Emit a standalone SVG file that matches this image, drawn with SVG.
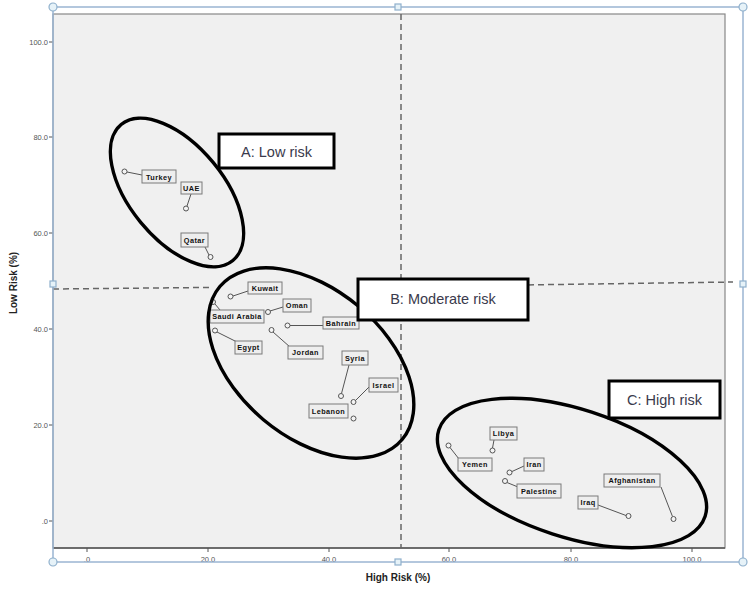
<svg xmlns="http://www.w3.org/2000/svg" width="754" height="605" viewBox="0 0 754 605">
<style>
.tick{font-family:"Liberation Sans",Arial,sans-serif;font-size:7.5px;fill:#555}
.ax{font-family:"Liberation Sans",Arial,sans-serif;font-size:10px;font-weight:bold;fill:#222}
.lb{fill:#eeeeee;stroke:#7a7a7a;stroke-width:1}
.lt{font-family:"Liberation Sans",Arial,sans-serif;font-size:7.3px;font-weight:bold;fill:#111;text-anchor:middle;letter-spacing:0.45px}
.pt{fill:#f4f4f4;stroke:#555;stroke-width:1}
.ld{stroke:#555;stroke-width:1;fill:none}
.dash{stroke:#666;stroke-width:1.5;stroke-dasharray:6,4;fill:none}
.ell{fill:none;stroke:#000;stroke-width:3.4}
.cb{fill:#fff;stroke:#000;stroke-width:3}
.ct{font-family:"Liberation Sans",Arial,sans-serif;font-size:14.5px;fill:#3a3a4c;text-anchor:middle}
.sel{stroke:#9bb5d2;stroke-width:1.5;fill:none}
.h{fill:#e6f2f8;stroke:#8fb0cc;stroke-width:1.2}
</style>
<rect width="754" height="605" fill="#fff"/>
<g id="plot">
<rect x="53" y="14" width="672" height="534" fill="#f0f0f0" stroke="#888" stroke-width="1.2"/>
<line x1="53" y1="548" x2="725" y2="548" stroke="#555" stroke-width="1.5"/>
<g stroke="#555" stroke-width="1">
<line x1="87" y1="548" x2="87" y2="552"/><line x1="208" y1="548" x2="208" y2="552"/>
<line x1="329" y1="548" x2="329" y2="552"/><line x1="449" y1="548" x2="449" y2="552"/>
<line x1="571" y1="548" x2="571" y2="552"/><line x1="692" y1="548" x2="692" y2="552"/>
<line x1="49" y1="42" x2="53" y2="42"/><line x1="49" y1="137" x2="53" y2="137"/>
<line x1="49" y1="233" x2="53" y2="233"/><line x1="49" y1="329" x2="53" y2="329"/>
<line x1="49" y1="425" x2="53" y2="425"/><line x1="49" y1="521" x2="53" y2="521"/>
</g>
<g class="tick" text-anchor="end">
<text x="48" y="45">100.0</text><text x="48" y="140">80.0</text><text x="48" y="236">60.0</text>
<text x="48" y="332">40.0</text><text x="48" y="428">20.0</text><text x="48" y="524">.0</text>
</g>
<g class="tick" text-anchor="middle">
<text x="87" y="562">.0</text><text x="208" y="562">20.0</text><text x="329" y="562">40.0</text>
<text x="449" y="562">60.0</text><text x="571" y="562">80.0</text><text x="692" y="562">100.0</text>
</g>
<text class="ax" x="398" y="581" text-anchor="middle">High Risk (%)</text>
<text class="ax" transform="translate(17,283) rotate(-90)" text-anchor="middle">Low Risk (%)</text>
</g>
<g id="connectors">
<line class="dash" x1="401" y1="14" x2="401" y2="548"/>
<line class="dash" x1="53" y1="289" x2="212" y2="287.4"/>
<line class="dash" x1="528" y1="284.9" x2="733" y2="282"/>
<line class="ld" x1="127" y1="172" x2="142" y2="175"/>
<line class="ld" x1="187" y1="206" x2="191" y2="194"/>
<line class="ld" x1="205" y1="247" x2="209" y2="255"/>
<line class="ld" x1="233" y1="296" x2="248" y2="291"/>
<line class="ld" x1="270" y1="311" x2="283" y2="307"/>
<line class="ld" x1="215" y1="304" x2="220" y2="310"/>
<line class="ld" x1="290" y1="325.5" x2="323" y2="325.5"/>
<line class="ld" x1="217" y1="332" x2="237" y2="342"/>
<line class="ld" x1="273" y1="332" x2="290" y2="347"/>
<line class="ld" x1="349" y1="365" x2="341.5" y2="393.5"/>
<line class="ld" x1="370" y1="386" x2="355.5" y2="400.5"/>
<line class="ld" x1="494" y1="440" x2="492.5" y2="448"/>
<line class="ld" x1="450" y1="447.5" x2="459" y2="459"/>
<line class="ld" x1="512" y1="471.5" x2="524" y2="466"/>
<line class="ld" x1="507" y1="482.5" x2="518" y2="487"/>
<line class="ld" x1="661" y1="487" x2="672.5" y2="516.5"/>
<line class="ld" x1="598" y1="505" x2="626" y2="515.5"/>
</g>
<g id="n-turkey"><rect class="lb" x="142" y="170" width="34" height="13"/><text class="lt" x="159" y="179.5">Turkey</text><circle class="pt" cx="124.5" cy="171.5" r="2.5"/></g>
<g id="n-uae"><rect class="lb" x="181" y="182" width="21" height="12"/><text class="lt" x="191.5" y="190.5">UAE</text><circle class="pt" cx="186" cy="208.5" r="2.5"/></g>
<g id="n-qatar"><rect class="lb" x="181" y="233" width="27" height="14"/><text class="lt" x="194.5" y="242.5">Qatar</text><circle class="pt" cx="210.5" cy="257" r="2.5"/></g>
<g id="n-kuwait"><rect class="lb" x="248" y="282" width="34" height="12"/><text class="lt" x="265" y="290.5">Kuwait</text><circle class="pt" cx="230.5" cy="296.5" r="2.5"/></g>
<g id="n-oman"><rect class="lb" x="283" y="299" width="28" height="13"/><text class="lt" x="297" y="308">Oman</text><circle class="pt" cx="268" cy="312" r="2.5"/></g>
<g id="n-saudi"><circle class="pt" cx="213" cy="302" r="2.5"/><rect class="lb" x="210" y="310" width="54" height="13"/><text class="lt" x="237" y="319">Saudi Arabia</text></g>
<g id="n-bahrain"><rect class="lb" x="323" y="317" width="36" height="12"/><text class="lt" x="341" y="325.5">Bahrain</text><circle class="pt" cx="287.5" cy="325.5" r="2.5"/></g>
<g id="n-egypt"><rect class="lb" x="235" y="341" width="27" height="13"/><text class="lt" x="248.5" y="350">Egypt</text><circle class="pt" cx="215" cy="330.5" r="2.5"/></g>
<g id="n-jordan"><rect class="lb" x="288" y="346" width="35" height="13"/><text class="lt" x="305.5" y="355">Jordan</text><circle class="pt" cx="271.5" cy="330" r="2.5"/></g>
<g id="n-syria"><rect class="lb" x="342" y="351" width="26" height="14"/><text class="lt" x="355" y="360.5">Syria</text><circle class="pt" cx="341" cy="396" r="2.5"/></g>
<g id="n-israel"><rect class="lb" x="369" y="378" width="29" height="14"/><text class="lt" x="383.5" y="387.5">Israel</text><circle class="pt" cx="353.5" cy="402" r="2.5"/></g>
<g id="n-lebanon"><rect class="lb" x="309" y="404" width="39" height="14"/><text class="lt" x="328.5" y="413.5">Lebanon</text><circle class="pt" cx="353.5" cy="418.5" r="2.5"/></g>
<g id="n-libya"><rect class="lb" x="490" y="427" width="27" height="13"/><text class="lt" x="503.5" y="436">Libya</text><circle class="pt" cx="492.5" cy="450.5" r="2.5"/></g>
<g id="n-yemen"><rect class="lb" x="458" y="458" width="34" height="13"/><text class="lt" x="475" y="467">Yemen</text><circle class="pt" cx="448.5" cy="445.5" r="2.5"/></g>
<g id="n-iran"><rect class="lb" x="524" y="458" width="20" height="13"/><text class="lt" x="534" y="467">Iran</text><circle class="pt" cx="509.5" cy="472.5" r="2.5"/></g>
<g id="n-palestine"><rect class="lb" x="517" y="484" width="44" height="14"/><text class="lt" x="539" y="493.5">Palestine</text><circle class="pt" cx="505" cy="481" r="2.5"/></g>
<g id="n-afghanistan"><rect class="lb" x="604" y="474" width="56" height="13"/><text class="lt" x="632" y="483">Afghanistan</text><circle class="pt" cx="673.5" cy="519" r="2.5"/></g>
<g id="n-iraq"><rect class="lb" x="578" y="496" width="20" height="13"/><text class="lt" x="588" y="505">Iraq</text><circle class="pt" cx="628.5" cy="516" r="2.5"/></g>
<g id="cluster-a"><ellipse class="ell" cx="177" cy="192.5" rx="88" ry="47" transform="rotate(50.6 177 192.5)"/><rect class="cb" x="219" y="134" width="115" height="34"/><text class="ct" x="276.5" y="157">A: Low risk</text></g>
<g id="cluster-b"><ellipse class="ell" cx="311" cy="363" rx="119" ry="74" transform="rotate(40 311 363)"/><rect class="cb" x="358" y="279" width="170" height="41"/><text class="ct" x="443" y="304">B: Moderate risk</text></g>
<g id="cluster-c"><ellipse class="ell" cx="572" cy="473" rx="140" ry="64" transform="rotate(18 572 473)"/><rect class="cb" x="609" y="381" width="111" height="37"/><text class="ct" x="664.5" y="404.5">C: High risk</text></g>
<g id="selection">
<rect class="sel" x="53" y="7" width="690" height="555"/>
<circle class="h" cx="53" cy="7" r="4"/><circle class="h" cx="743" cy="7" r="4"/>
<circle class="h" cx="53" cy="562" r="4"/><circle class="h" cx="743" cy="562" r="4"/>
<rect class="h" x="395" y="4" width="6" height="6"/><rect class="h" x="395" y="559" width="6" height="6"/>
<rect class="h" x="50" y="281" width="6" height="6"/><rect class="h" x="740" y="281" width="6" height="6"/>
</g>
</svg>
